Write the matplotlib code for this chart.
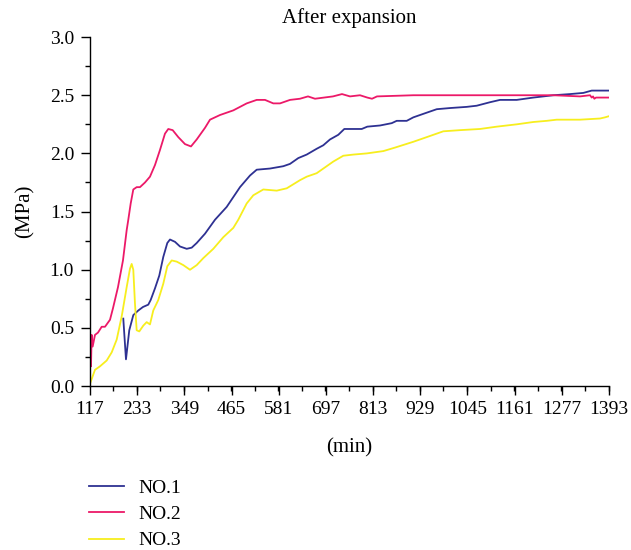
import matplotlib
matplotlib.use("Agg")
import matplotlib.pyplot as plt
from matplotlib.ticker import MultipleLocator, FixedLocator

plt.rcParams['font.family'] = ['Liberation Serif', 'DejaVu Serif']

# NO.1 (blue)
t1 = [198.9, 205.5, 213.6, 223.5, 235.8, 247.3, 260.3, 266.2, 276.8, 287.4, 297.2, 307.1, 313.7, 326.0,
      338.3, 354.8, 367.1, 379.4, 399.8, 424.4, 453.1, 485.8, 510.4, 526.9, 559.6, 592.3, 608.8, 629.2,
      649.8, 674.4, 690.6, 707.1, 727.5, 742.3, 760.5, 785.1, 798.8, 830.1, 858.8, 871.1, 895.7, 912.0,
      936.5, 969.5, 1002.2, 1043.2, 1067.8, 1100.5, 1125.1, 1166.2, 1207.0, 1256.2, 1297.2, 1329.9,
      1350.6, 1371.0, 1393]
v1 = [0.58, 0.23, 0.48, 0.61, 0.65, 0.68, 0.70, 0.74, 0.84, 0.95, 1.11, 1.23, 1.26, 1.24,
      1.20, 1.18, 1.19, 1.23, 1.31, 1.43, 1.54, 1.71, 1.81, 1.86, 1.87, 1.89, 1.91, 1.96,
      1.99, 2.04, 2.07, 2.12, 2.16, 2.21, 2.21, 2.21, 2.23, 2.24, 2.26, 2.28, 2.28, 2.31,
      2.34, 2.38, 2.39, 2.40, 2.41, 2.44, 2.46, 2.46, 2.48, 2.50, 2.51, 2.52,
      2.54, 2.54, 2.54]

# NO.2 (pink)
t2 = [117, 119.5, 121.2, 123.6, 129.3, 136.7, 145.8, 153.9, 166.2, 173.6, 185.8, 198.1, 207.2, 211.2,
      217.1, 223.5, 231.8, 239.9, 252.2, 264.5, 276.8, 289.1, 301.4, 309.5, 320.3, 334.1, 350.6, 365.3,
      379.4, 399.8, 412.1, 436.6, 469.4, 502.3, 526.9, 547.3, 567.7, 584.2, 608.8, 633.3, 653.0, 670.2,
      714.5, 736.6, 756.3, 780.9, 798.8, 810.4, 822.7, 912.0, 1100, 1256.2, 1321.8, 1346.4, 1350.6,
      1353.8, 1357, 1361.1, 1371, 1393]
v2 = [0.46, 0.17, 0.44, 0.34, 0.44, 0.46, 0.51, 0.51, 0.57, 0.67, 0.85, 1.08, 1.34, 1.43,
      1.57, 1.69, 1.71, 1.71, 1.75, 1.80, 1.90, 2.03, 2.17, 2.21, 2.20, 2.14, 2.08, 2.06,
      2.12, 2.22, 2.29, 2.33, 2.37, 2.43, 2.46, 2.46, 2.43, 2.43, 2.46, 2.47, 2.49, 2.47,
      2.49, 2.51, 2.49, 2.50, 2.48, 2.47, 2.49, 2.50, 2.50, 2.50, 2.49, 2.50, 2.48,
      2.49, 2.47, 2.48, 2.48, 2.48]

# NO.3 (yellow)
t3 = [117, 129.3, 141.6, 158.1, 170.4, 182.7, 195.0, 207.2, 215.4, 219.5, 223.5, 227.6, 231.8, 238.2,
      248.1, 256.4, 264.5, 272.6, 284.9, 297.2, 307.1, 317.9, 330.2, 346.4, 362.9, 379.4, 395.6, 420.2,
      444.8, 469.4, 481.6, 502.3, 518.5, 543.1, 576.1, 600.7, 633.3, 649.8, 674.4, 694.8, 715.2, 739.8,
      764.4, 797.4, 838.2, 866.9, 912.0, 944.9, 985.7, 1026.8, 1075.9, 1117.0, 1166.2, 1207.0, 1240.0,
      1264.5, 1321.8, 1371.0, 1383.3, 1393]
v3 = [0.02, 0.14, 0.17, 0.22, 0.29, 0.40, 0.60, 0.85, 1.01, 1.05, 1.00, 0.71, 0.48, 0.47,
      0.52, 0.55, 0.53, 0.65, 0.74, 0.88, 1.03, 1.08, 1.07, 1.04, 1.00, 1.04, 1.10, 1.18,
      1.28, 1.36, 1.43, 1.57, 1.64, 1.69, 1.68, 1.70, 1.77, 1.80, 1.83, 1.88, 1.93, 1.98,
      1.99, 2.00, 2.02, 2.05, 2.10, 2.14, 2.19, 2.20, 2.21, 2.23, 2.25, 2.27, 2.28,
      2.29, 2.29, 2.30, 2.31, 2.32]

x_ticks = [117, 233, 349, 465, 581, 697, 813, 929, 1045, 1161, 1277, 1393]
y_ticks = [0.0, 0.5, 1.0, 1.5, 2.0, 2.5, 3.0]
labels = ["NO.1", "NO.2", "NO.3"]
colors = ["#2e3192", "#ec1968", "#f7ee1e"]

FS = 14

fig = plt.figure(figsize=(6.31, 5.5), dpi=100)
ax = fig.add_axes([0.1426, 0.298, 0.8225, 0.6346])

lines = []
for t, v, c, lab in zip([t1, t2, t3], [v1, v2, v3], colors, labels):
    ln, = ax.plot(t, v, color=c, lw=1.3, label=lab)
    lines.append(ln)

ax.set_xlim(117, 1393)
ax.set_ylim(0, 3.0)
ax.xaxis.set_major_locator(FixedLocator(x_ticks))
ax.xaxis.set_minor_locator(MultipleLocator(58))
ax.yaxis.set_major_locator(FixedLocator(y_ticks))
ax.yaxis.set_minor_locator(MultipleLocator(0.25))
ax.set_yticklabels([f"{y:.1f}" for y in y_ticks])
for s in ["top", "right"]:
    ax.spines[s].set_visible(False)
for s in ["left", "bottom"]:
    ax.spines[s].set_linewidth(1.0)
ax.tick_params(which="major", direction="out", length=6.5, width=1.0, labelsize=FS, color="black")
ax.tick_params(which="minor", direction="out", length=3.3, width=1.0)
ax.tick_params(axis="y", which="major", pad=5)
ax.tick_params(axis="x", which="major", pad=4.5)
ax.set_title("After expansion", fontsize=FS + 1, pad=10)
ax.set_xlabel("(min)", fontsize=FS + 1, labelpad=14)
ax.set_ylabel("(MPa)", fontsize=FS + 1)
ax.yaxis.set_label_coords((35 - 90) / 519, 0.5)

fig.legend(handles=lines, loc="upper left", bbox_to_anchor=(89 / 631, 1 - 479 / 550),
           frameon=False, fontsize=FS, handlelength=1.8, handletextpad=0.75,
           labelspacing=0.45, borderpad=0, borderaxespad=0)

fig.savefig("out.png", dpi=100)
